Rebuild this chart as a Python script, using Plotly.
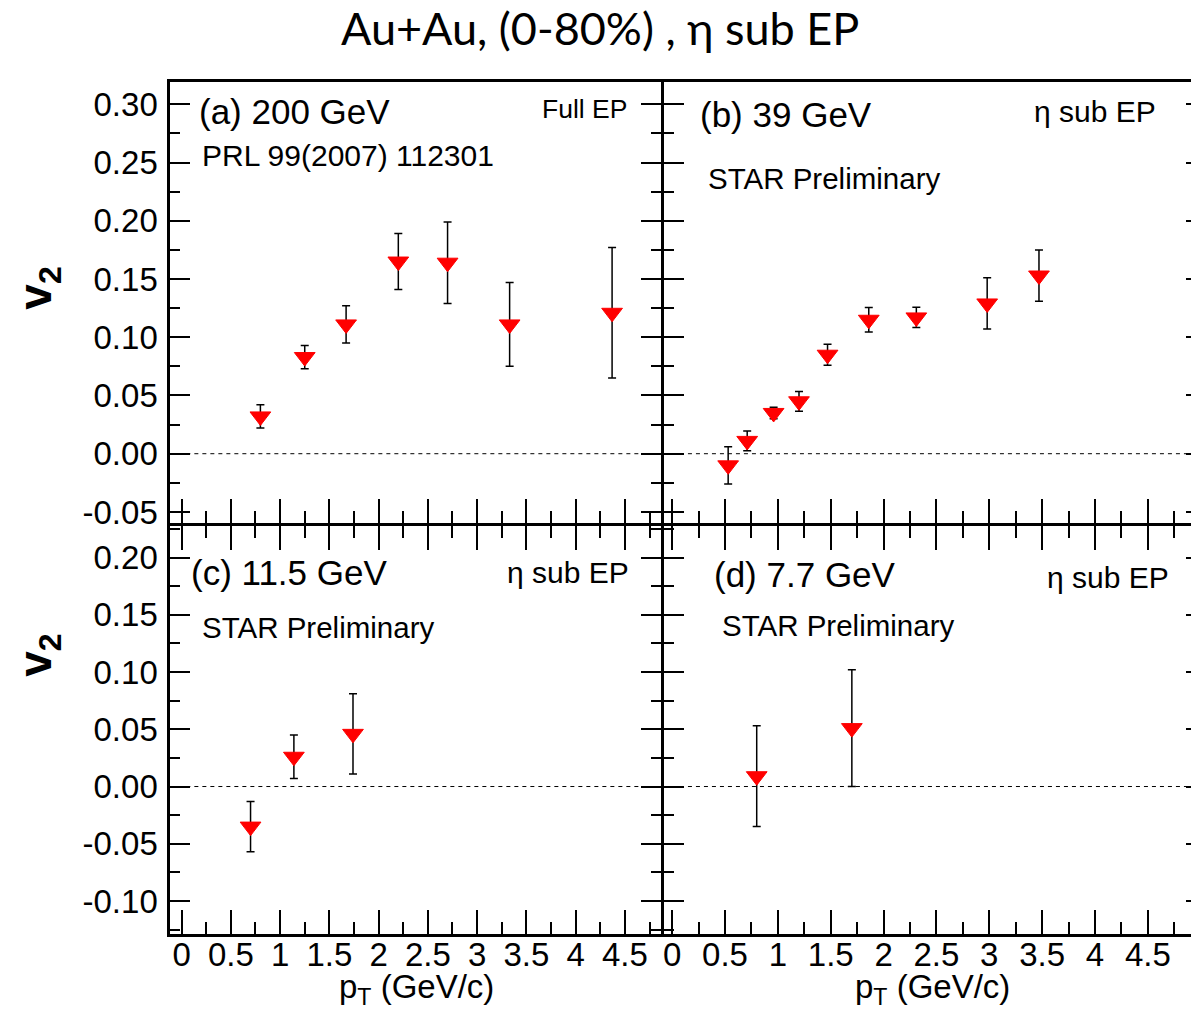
import plotly.graph_objects as go

# ---------------- data ----------------
a_pt = [0.80, 1.25, 1.67, 2.20, 2.70, 3.33, 4.37]
a_v2 = [0.032, 0.083, 0.111, 0.165, 0.164, 0.111, 0.121]
a_err = [0.010, 0.010, 0.016, 0.024, 0.035, 0.036, 0.056]

b_pt = [0.53, 0.71, 0.96, 1.20, 1.47, 1.86, 2.31, 2.98, 3.47]
b_v2 = [-0.010, 0.011, 0.035, 0.045, 0.085, 0.115, 0.117, 0.129, 0.153]
b_err = [0.016, 0.0085, 0.005, 0.0085, 0.009, 0.0105, 0.0087, 0.022, 0.022]

c_pt = [0.70, 1.14, 1.74]
c_v2 = [-0.035, 0.026, 0.046]
c_err = [0.022, 0.019, 0.035]

d_pt = [0.80, 1.70]
d_v2 = [0.009, 0.051]
d_err = [0.044, 0.051]

x_tickvals = [0, 0.5, 1, 1.5, 2, 2.5, 3, 3.5, 4, 4.5]
x_ticktext = ["0", "0.5", "1", "1.5", "2", "2.5", "3", "3.5", "4", "4.5"]
ytop_tickvals = [-0.05, 0.00, 0.05, 0.10, 0.15, 0.20, 0.25, 0.30]
ytop_ticktext = ["-0.05", "0.00", "0.05", "0.10", "0.15", "0.20", "0.25", "0.30"]
ybot_tickvals = [-0.10, -0.05, 0.00, 0.05, 0.10, 0.15, 0.20]
ybot_ticktext = ["-0.10", "-0.05", "0.00", "0.05", "0.10", "0.15", "0.20"]

panel_labels = ["(a) 200 GeV", "(b) 39 GeV", "(c) 11.5 GeV", "(d) 7.7 GeV"]
method_labels = ["Full EP", "η sub EP", "η sub EP", "η sub EP"]
sub_labels = ["PRL 99(2007) 112301", "STAR Preliminary", "STAR Preliminary", "STAR Preliminary"]
title_text = "Au+Au, (0-80%) , η sub EP"

# ---------------- layout helpers ----------------
W, H = 1191, 1026
def X(px):
    return px / W
def Y(py):
    return 1 - py / H

FONT = "Liberation Sans, Arial, sans-serif"

fig = go.Figure()

panels = [
    (a_pt, a_v2, a_err, "x", "y"),
    (b_pt, b_v2, b_err, "x2", "y2"),
    (c_pt, c_v2, c_err, "x3", "y3"),
    (d_pt, d_v2, d_err, "x4", "y4"),
]
for pt, v2, err, xa, ya in panels:
    fig.add_trace(go.Scatter(
        x=pt, y=v2, mode="markers", xaxis=xa, yaxis=ya,
        marker=dict(symbol="triangle-down", size=18, color="#ff0000",
                    line=dict(width=1, color="#ff0000")),
        error_y=dict(type="data", array=err, visible=True, color="black", thickness=1.5, width=4),
        showlegend=False, hoverinfo="x+y",
    ))

# dummy traces for the right-edge tick axes of panels b and d
fig.add_trace(go.Scatter(x=[None], y=[None], xaxis="x2", yaxis="y5", showlegend=False))
fig.add_trace(go.Scatter(x=[None], y=[None], xaxis="x4", yaxis="y6", showlegend=False))

LW = 3
dom_left = [X(169.5), X(660.5)]
dom_right = [X(663.5), 1.0]
dom_top = [Y(527), Y(82.7)]
dom_bot = [Y(941.7), Y(530.5)]

xr_left = [-0.114, 4.866]
xr_right = [-0.0775, 4.908]
yr_top = [-0.0594, 0.3191]
yr_bot = [-0.1291, 0.2272]

tickfont = dict(family=FONT, size=33, color="black")

def xaxis(domain, rng, anchor, labels, mirror):
    return dict(
        domain=domain, range=rng, anchor=anchor,
        showline=True, linecolor="black", linewidth=LW, mirror=mirror,
        ticks="inside", ticklen=24, tickwidth=1.5, tickcolor="black",
        tickmode="array", tickvals=x_tickvals, ticktext=x_ticktext,
        showticklabels=labels, tickfont=tickfont, ticklabelstandoff=-11,
        minor=dict(ticks="inside", ticklen=12, tickwidth=1.5, tickcolor="black",
                   tickmode="linear", tick0=0, dtick=0.25, showgrid=False),
        showgrid=False, zeroline=False,
    )

def yaxis(domain, rng, anchor, tv, tt, labels, mirror):
    return dict(
        domain=domain, range=rng, anchor=anchor,
        showline=True, linecolor="black", linewidth=LW, mirror=mirror,
        ticks="inside", ticklen=20, tickwidth=1.5, tickcolor="black",
        tickmode="array", tickvals=tv, ticktext=tt,
        showticklabels=labels, tickfont=tickfont, ticklabelstandoff=3,
        minor=dict(ticks="inside", ticklen=10, tickwidth=1.5, tickcolor="black",
                   tickmode="linear", tick0=0, dtick=0.025, showgrid=False),
        showgrid=False, zeroline=False,
    )

fig.update_layout(
    width=W, height=H,
    margin=dict(l=0, r=0, t=0, b=0),
    paper_bgcolor="white", plot_bgcolor="white",
    xaxis=xaxis(dom_left, xr_left, "y", False, True),
    xaxis2=xaxis(dom_right, xr_right, "y2", False, True),
    xaxis3=xaxis(dom_left, xr_left, "y3", True, "ticks"),
    xaxis4=xaxis(dom_right, xr_right, "y4", True, "ticks"),
    yaxis=yaxis(dom_top, yr_top, "x", ytop_tickvals, ytop_ticktext, True, "ticks"),
    yaxis2=yaxis(dom_top, yr_top, "x2", ytop_tickvals, ytop_ticktext, False, False),
    yaxis3=yaxis(dom_bot, yr_bot, "x3", ybot_tickvals, ybot_ticktext, True, "ticks"),
    yaxis4=yaxis(dom_bot, yr_bot, "x4", ybot_tickvals, ybot_ticktext, False, False),
    yaxis5=dict(overlaying="y2", anchor="free", position=1.0, side="right", range=yr_top,
                ticks="inside", ticklen=5, tickwidth=1.5, tickcolor="black",
                tickmode="array", tickvals=ytop_tickvals, showticklabels=False,
                showline=False, showgrid=False, zeroline=False),
    yaxis6=dict(overlaying="y4", anchor="free", position=1.0, side="right", range=yr_bot,
                ticks="inside", ticklen=5, tickwidth=1.5, tickcolor="black",
                tickmode="array", tickvals=ybot_tickvals, showticklabels=False,
                showline=False, showgrid=False, zeroline=False),
    showlegend=False,
)

# dashed zero lines
for xa, ya in [("x", "y"), ("x2", "y2"), ("x3", "y3"), ("x4", "y4")]:
    fig.add_shape(type="line", xref=f"{xa} domain", yref=ya, x0=0, x1=1, y0=0, y1=0,
                  line=dict(color="black", width=1, dash="4px,4px"))

def ann(text, x, y, size, xanchor="left", family=FONT, angle=0):
    fig.add_annotation(text=text, x=X(x), y=Y(y), xref="paper", yref="paper",
                       xanchor=xanchor, yanchor="middle", showarrow=False, textangle=angle,
                       font=dict(family=family, size=size, color="black"))

# title
ann(title_text, 600, 28, 45, "center", family="Lato, Open Sans, sans-serif")

# panel texts
ann(panel_labels[0], 196, 112, 35)
ann(sub_labels[0], 199, 157, 30)
ann(method_labels[0], 629, 110, 26.5, "right")

ann(panel_labels[1], 698, 115, 35)
ann(method_labels[1], 1158, 112, 30, "right")
ann(sub_labels[1], 706, 180, 29.5)

ann(panel_labels[2], 188, 577, 35)
ann(method_labels[2], 631, 577, 30, "right")
ann(sub_labels[2], 199, 632, 29.5)

ann(panel_labels[3], 712, 579, 35)
ann(method_labels[3], 1171, 582, 30, "right")
ann(sub_labels[3], 720, 630, 29.5)

# axis titles
ann("<b>v<sub>2</sub></b>", 38, 290, 46, "center", angle=-90)
ann("<b>v<sub>2</sub></b>", 38, 660, 46, "center", angle=-90)
ann("p<sub>T</sub> (GeV/c)", 416, 997, 33, "center")
ann("p<sub>T</sub> (GeV/c)", 932, 997, 33, "center")

fig.write_html(
    "out.html",
    config={"displayModeBar": False},
    post_script="document.body.style.margin='0';document.body.style.overflow='hidden';",
)
